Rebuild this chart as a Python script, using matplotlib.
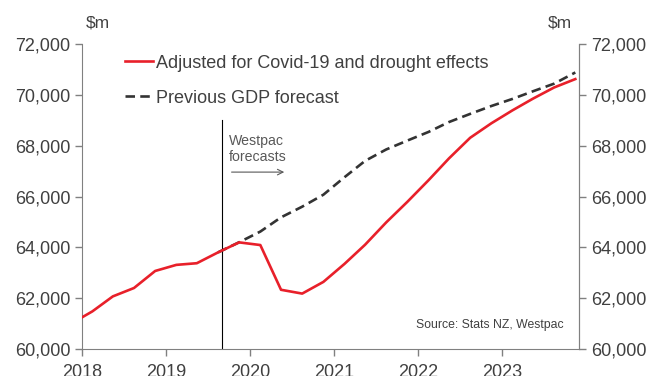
import matplotlib
matplotlib.use("Agg")
from matplotlib import pyplot as plt, dates
import pandas as pd

plt.rcParams['font.family'] = ['Liberation Sans', 'DejaVu Sans']

# quarterly GDP, $m (mid-quarter dates, Nov 2017 .. Nov 2023)
quarters = pd.date_range('2017-11-01', '2023-11-01', freq='3MS') + pd.Timedelta(days=14)
adjusted = [61000, 61480, 62070, 62400, 63070, 63310, 63375, 63800, 64195,
            64090, 62330, 62180, 62640, 63350, 64100, 64980, 65790, 66640,
            67500, 68310, 68880, 69390, 69850, 70290, 70620]
# previous forecast starts at Aug 2019
previous = [63800, 64200, 64620, 65180, 65600, 66070, 66760, 67400, 67850,
            68200, 68540, 68930, 69250, 69560, 69840, 70140, 70440, 70880]
prev_quarters = quarters[-len(previous):]

label_red = 'Adjusted for Covid-19 and drought effects'
label_prev = 'Previous GDP forecast'
forecast_start = pd.Timestamp('2019-09-01')

txt = '#404040'
grey = '#808080'

fig = plt.figure(figsize=(6.52, 3.76), dpi=100)
ax = fig.add_axes([82/652, 1-349/376, 497/652, 305/376])

ax.plot(quarters, adjusted, color='#E8202A', lw=1.9, label=label_red, zorder=3)
ax.plot(prev_quarters, previous, color='#333333', lw=1.9, ls=(0, (3.6, 2.0)),
        label=label_prev, zorder=2)

ax.axvline(forecast_start, ymin=0, ymax=0.75, color='black', lw=0.8)
ax.text(pd.Timestamp('2019-10-01'), 68450, 'Westpac\nforecasts', fontsize=10.2,
        color='#595959', va='top', ha='left', linespacing=1.15)
ax.annotate('', xy=(pd.Timestamp('2020-06-10'), 66960), xytext=(pd.Timestamp('2019-10-01'), 66960),
            arrowprops=dict(arrowstyle='->', color='#595959', lw=0.8))

ax.set_xlim(pd.Timestamp('2018-01-01'), pd.Timestamp('2023-12-01'))
ax.set_ylim(60000, 72000)
ax.set_yticks(range(60000, 72001, 2000))
ax.yaxis.set_major_formatter(lambda v, p: f'{v:,.0f}')
ax.xaxis.set_major_locator(dates.YearLocator())
ax.xaxis.set_major_formatter(dates.DateFormatter('%Y'))

ax.spines['top'].set_visible(False)
for side in ['left', 'right', 'bottom']:
    ax.spines[side].set_color(grey)
ax.tick_params(axis='both', colors=grey, labelcolor=txt, labelsize=13, length=5, width=1)
ax.tick_params(axis='x', pad=6)

ax2 = ax.twinx()
ax2.set_ylim(60000, 72000)
ax2.set_yticks(range(60000, 72001, 2000))
ax2.yaxis.set_major_formatter(lambda v, p: f'{v:,.0f}')
for side in ['top', 'left', 'bottom']:
    ax2.spines[side].set_visible(False)
ax2.spines['right'].set_color(grey)
ax2.tick_params(axis='y', colors=grey, labelcolor=txt, labelsize=13, length=5, width=1)

fig.text(98/652, 1-23/376, '$m', fontsize=12.5, color=txt, ha='center', va='center')
fig.text(560/652, 1-23/376, '$m', fontsize=12.5, color=txt, ha='center', va='center')

ax.text(0.97, 0.06, 'Source: Stats NZ, Westpac', transform=ax.transAxes, fontsize=8.8,
        color=txt, ha='right', va='bottom')

leg = ax.legend(loc='upper left', bbox_to_anchor=(0.0865, 0.965), frameon=False,
                fontsize=13, handlelength=1.55, handletextpad=0.15, labelspacing=1.0,
                borderpad=0, borderaxespad=0)
for t in leg.get_texts():
    t.set_color(txt)

fig.savefig('out.png', dpi=100)
